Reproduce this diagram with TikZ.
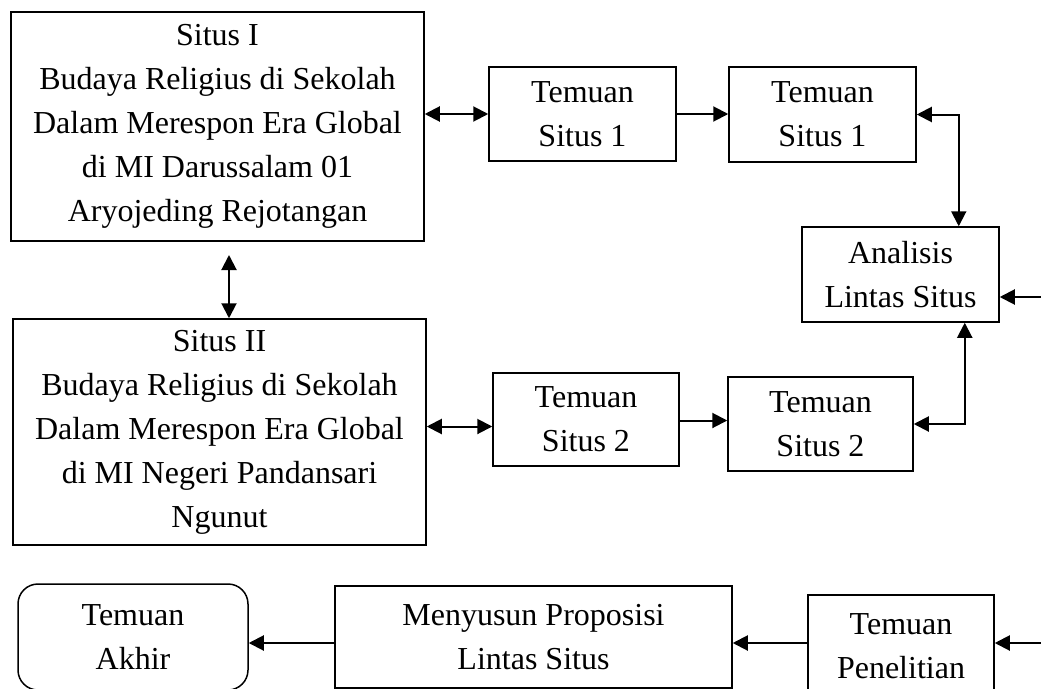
\documentclass[tikz,border=0pt]{standalone}
\usepackage{fontspec}
\setmainfont{Liberation Serif}
\usetikzlibrary{arrows.meta}
\begin{document}
\begin{tikzpicture}[x=1pt,y=-1pt,
  box/.style={draw, line width=1.5pt, inner sep=0pt, align=center,
    font=\fontsize{32}{44}\selectfont},
  conn/.style={line width=2pt, -{Triangle[length=15pt,width=15pt]}},
  bconn/.style={line width=2pt, {Triangle[length=15pt,width=15pt]}-{Triangle[length=15pt,width=15pt]}}]
\useasboundingbox (0,0) rectangle (1041,688);
\fill[white] (0,0) rectangle (1041,688);
\begin{scope}
\clip (0,0) rectangle (1041,688);
\node[box, minimum width=413, minimum height=229] (s1) at (217.5,126.5)
  {Situs I\\Budaya Religius di Sekolah\\Dalam Merespon Era Global\\di MI Darussalam 01\\Aryojeding Rejotangan};
\node[box, minimum width=413, minimum height=226] (s2) at (219.5,432)
  {Situs II\\Budaya Religius di Sekolah\\Dalam Merespon Era Global\\di MI Negeri Pandansari\\Ngunut};
\node[box, minimum width=187, minimum height=94] (t1a) at (582.5,114) {Temuan\\Situs 1};
\node[box, minimum width=187, minimum height=95] (t1b) at (822.5,114.5) {Temuan\\Situs 1};
\node[box, minimum width=197, minimum height=95] (an) at (900.5,274.5) {Analisis\\Lintas Situs};
\node[box, minimum width=186, minimum height=93] (t2a) at (586,419.5) {Temuan\\Situs 2};
\node[box, minimum width=185, minimum height=94] (t2b) at (820.5,424) {Temuan\\Situs 2};
\node[box, rounded corners=20pt, minimum width=230, minimum height=106] (ak) at (133,637) {Temuan\\Akhir};
\node[box, minimum width=397, minimum height=102] (mp) at (533.5,637) {Menyusun Proposisi\\Lintas Situs};
\node[box, minimum width=186, minimum height=102] (pn) at (901,646) {Temuan\\Penelitian};

\coordinate (v1) at (229,255);
\coordinate (inA) at (1041,297);
\coordinate (inB) at (1041,643);

\draw[bconn] (t1a.west -| s1.east) -- (t1a.west);
\draw[conn] (t1a.east) -- (t1a.east -| t1b.west);
\draw[bconn] (t1b.east) -| ([xshift=-41pt]an.north east);
\draw[bconn] (v1) -- (v1 |- s2.north);
\draw[bconn] ([yshift=-7pt]t2a.west -| s2.east) -- ([yshift=-7pt]t2a.west);
\draw[conn] ([yshift=-1pt]t2a.east) -- ([yshift=-1pt]t2a.east -| t2b.west);
\draw[bconn] (t2b.east) -| ([xshift=-35pt]an.south east);
\draw[conn] (inA) -- (inA -| an.east);
\draw[conn] (inB) -- (inB -| pn.east);
\draw[conn] (inB -| pn.west) -- (inB -| mp.east);
\draw[conn] (inB -| mp.west) -- (inB -| ak.east);
\end{scope}
\end{tikzpicture}
\end{document}
